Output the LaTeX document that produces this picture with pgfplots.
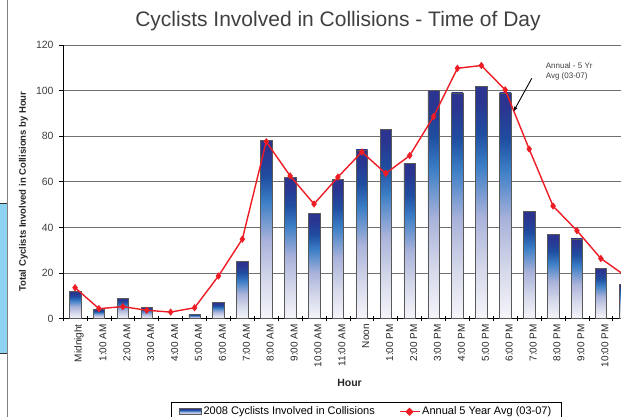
\documentclass[border=0pt]{standalone}
\usepackage{pgfplots}
\pgfplotsset{compat=1.18}
\usepackage{fontspec}
\setmainfont{Liberation Sans}
\usetikzlibrary{arrows.meta}
\definecolor{sA}{HTML}{F5F5FA}
\definecolor{sB}{HTML}{D4D8EA}
\definecolor{sC}{HTML}{A9B2DA}
\definecolor{sD}{HTML}{3B7EC6}
\definecolor{sE}{HTML}{1F4DA0}
\definecolor{sF}{HTML}{2B3590}
\definecolor{redline}{HTML}{EE1C24}
\definecolor{gridgray}{HTML}{707070}
\definecolor{txtgray}{HTML}{404040}
\definecolor{boxblue}{HTML}{8ED3F2}
\pgfdeclareverticalshading{barshade}{100bp}{color(0bp)=(sA); color(25bp)=(sA); color(36bp)=(sB); color(47bp)=(sC); color(58bp)=(sD); color(65bp)=(sE); color(72bp)=(sF); color(75bp)=(sF); color(100bp)=(sF)}
\pgfplotsset{mybar/.style={ybar, bar width=11.5pt, bar shift=0pt, draw=black!65, line width=0.6pt, shading=barshade}}
\begin{document}
\begin{tikzpicture}
\useasboundingbox (0,0) rectangle (621pt,417pt);
\fill[white] (0,0) rectangle (621pt,417pt);
% left-edge artefacts of the source screenshot
\fill[boxblue] (0,63.7pt) rectangle (6.6pt,213.7pt);
\draw[black!80, line width=0.8pt] (0,213.7pt) -- (6.6pt,213.7pt);
\draw[black!80, line width=0.8pt] (0,63.7pt) -- (6.6pt,63.7pt);
\draw[gray, line width=1.2pt] (7.3pt,0) -- (7.3pt,417pt);
% title and labels
\node[anchor=base, text=txtgray, font=\fontsize{21}{25}\selectfont] at (338pt,390.3pt) {Cyclists Involved in Collisions - Time of Day};
\node[rotate=90, font=\bfseries\fontsize{9.5}{11}\selectfont, text=black!85] at (23.5pt,225.5pt) {Total Cyclists Involved in Collisions by Hour};
\node[font=\bfseries\fontsize{10.5}{12}\selectfont, text=black!85] at (349.5pt,34pt) {Hour};
\begin{axis}[
  at={(63.1pt,98.3pt)}, anchor=south west,
  scale only axis, width=573.6pt, height=273.7pt,
  xmin=-0.5, xmax=23.5, ymin=0, ymax=120,
  axis x line*=bottom, axis y line*=left,
  axis line style={black, line width=0.8pt},
  ytick={0,20,...,120},
  ymajorgrids, major grid style={gridgray, line width=0.9pt},
  xtick={0,...,23},
  xticklabels={Midnight,1:00 AM,2:00 AM,3:00 AM,4:00 AM,5:00 AM,6:00 AM,7:00 AM,8:00 AM,9:00 AM,10:00 AM,11:00 AM,Noon,1:00 PM,2:00 PM,3:00 PM,4:00 PM,5:00 PM,6:00 PM,7:00 PM,8:00 PM,9:00 PM,10:00 PM,11:00 PM},
  minor xtick={-0.5,0.5,...,23.5},
  x tick style={draw=none},
  minor x tick style={draw=black, line width=0.8pt},
  minor tick length=5pt,
  y tick style={black, line width=0.8pt},
  major tick length=4pt,
  ytick align=outside, xtick align=center,
  /pgf/number format/assume math mode=true,
  yticklabel style={font=\fontsize{10.5}{12}\selectfont, text=txtgray, xshift=-2pt},
  xticklabel style={rotate=90, anchor=east, font=\fontsize{10}{12}\selectfont, text=black!85, yshift=-4pt},
  legend columns=2,
  legend style={at={(0.1876,-0.3033)}, anchor=north west, draw=black, line width=0.6pt,
    font=\fontsize{11}{13}\selectfont, inner xsep=8pt, inner ysep=3pt,
    /tikz/every even column/.append style={column sep=22pt}},
  clip=true,
]
% 2008 cyclists involved in collisions (one plot per bar so each bar gets its own gradient; 4:00 AM = 0)
\addplot[mybar, legend image code/.code={\draw[shading=barshade, draw=black!65, line width=0.6pt] (0pt,-3pt) rectangle (22pt,3pt);}] coordinates {(0,12)};
\addlegendentry{2008 Cyclists Involved in Collisions}
\addplot[mybar, forget plot] coordinates {(1,4)};
\addplot[mybar, forget plot] coordinates {(2,9)};
\addplot[mybar, forget plot] coordinates {(3,5)};
\addplot[mybar, forget plot] coordinates {(5,2)};
\addplot[mybar, forget plot] coordinates {(6,7)};
\addplot[mybar, forget plot] coordinates {(7,25)};
\addplot[mybar, forget plot] coordinates {(8,78)};
\addplot[mybar, forget plot] coordinates {(9,62)};
\addplot[mybar, forget plot] coordinates {(10,46)};
\addplot[mybar, forget plot] coordinates {(11,61)};
\addplot[mybar, forget plot] coordinates {(12,74)};
\addplot[mybar, forget plot] coordinates {(13,83)};
\addplot[mybar, forget plot] coordinates {(14,68)};
\addplot[mybar, forget plot] coordinates {(15,100)};
\addplot[mybar, forget plot] coordinates {(16,99)};
\addplot[mybar, forget plot] coordinates {(17,102)};
\addplot[mybar, forget plot] coordinates {(18,99)};
\addplot[mybar, forget plot] coordinates {(19,47)};
\addplot[mybar, forget plot] coordinates {(20,37)};
\addplot[mybar, forget plot] coordinates {(21,35)};
\addplot[mybar, forget plot] coordinates {(22,22)};
\addplot[mybar, forget plot] coordinates {(23,15)};
\addplot[redline, line width=1.4pt, mark=diamond*, mark size=3.2pt, mark options={fill=redline, draw=redline, line width=0.6pt},
  legend image code/.code={\draw[redline, line width=1.4pt] (0pt,0pt) -- (20pt,0pt); \fill[redline] (10pt,3.2pt) -- (13pt,0pt) -- (10pt,-3.2pt) -- (7pt,0pt) -- cycle;}]
 coordinates {(0,13.6) (1,4.4) (2,5.3) (3,3.7) (4,2.9) (5,4.8) (6,18.7) (7,34.9) (8,77.6) (9,62.6) (10,50.3) (11,62.1) (12,73.1) (13,63.7) (14,71.5) (15,88.6) (16,109.8) (17,111) (18,100.3) (19,74.4) (20,49.4) (21,38.6) (22,26.4) (23,19)};
\addlegendentry{Annual 5 Year Avg (03-07)}
\node[anchor=north west, align=left, text=txtgray, font=\fontsize{8}{10}\selectfont] at (axis cs:19.55,114) {Annual - 5 Yr\\Avg (03-07)};
\draw[black, line width=0.9pt, -{Latex[length=5pt,width=4pt]}] (axis cs:19.11,105.4) -- (axis cs:18.34,90.75);
\end{axis}
\end{tikzpicture}
\end{document}
